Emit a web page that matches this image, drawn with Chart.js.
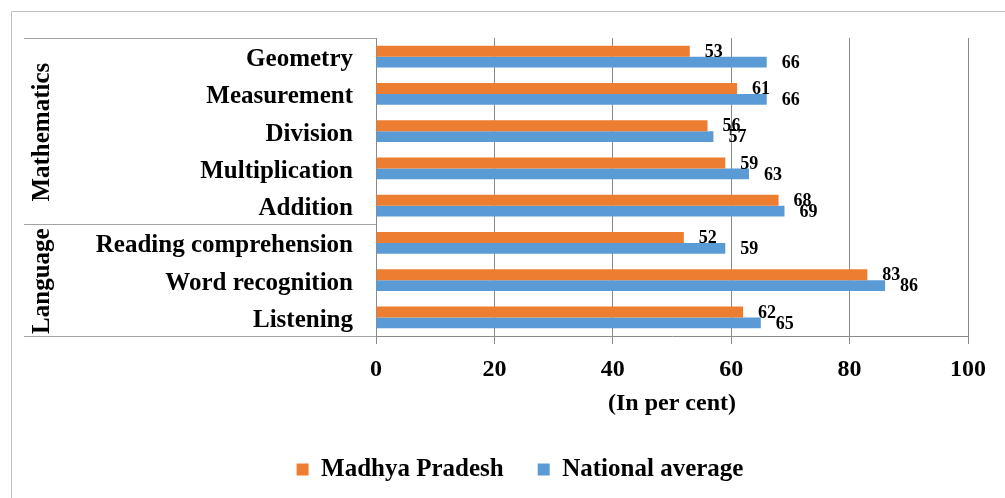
<!DOCTYPE html>
<html>
<head>
<meta charset="utf-8">
<script src="https://cdn.jsdelivr.net/npm/chart.js@4.4.1/dist/chart.umd.min.js"></script>
<style>
  html, body { margin: 0; padding: 0; background: #fff; }
  #wrap { width: 1005px; height: 498px; position: relative; }
</style>
</head>
<body>
<div id="wrap"><canvas id="grafico" width="1005" height="498"></canvas></div>
<script>
// =========================
// DATA
// =========================
const categorias = [
  "Geometry", "Measurement", "Division", "Multiplication", "Addition",
  "Reading comprehension", "Word recognition", "Listening"
];
const grupos       = ["Mathematics", "Language"];
const grupoTamanho = [5, 3];

const serieNomes     = ["Madhya Pradesh", "National average"];
const madhyaPradesh  = [53, 61, 56, 59, 68, 52, 83, 62];
const nacional       = [66, 66, 57, 63, 69, 59, 86, 65];

const xTicks   = [0, 20, 40, 60, 80, 100];
const xTitulo  = "(In per cent)";

const SERIF = "'Liberation Serif', 'Times New Roman', serif";
const LINHA = "#a3a3a3";

// =========================
// PLUGINS
// =========================
const moldura = {
  id: "moldura",
  beforeDraw(chart) {
    const ctx = chart.ctx;
    ctx.save();
    ctx.strokeStyle = "#bdbdbd";
    ctx.lineWidth = 1;
    ctx.beginPath();
    ctx.moveTo(11.5, 600);
    ctx.lineTo(11.5, 11.5);
    ctx.lineTo(1010, 11.5);
    ctx.stroke();
    ctx.restore();
  }
};

const rotulosCategorias = {
  id: "rotulosCategorias",
  afterDraw(chart) {
    const ctx = chart.ctx;
    const y = chart.scales.y;
    const area = chart.chartArea;
    ctx.save();

    // category names
    ctx.font = `bold 25px ${SERIF}`;
    ctx.fillStyle = "#000";
    ctx.textAlign = "right";
    ctx.textBaseline = "alphabetic";
    categorias.forEach((c, i) => {
      ctx.fillText(c, 353, y.getPixelForValue(i) + 9.5);
    });

    // group box lines
    const limites = [area.top];
    let idx = 0;
    grupoTamanho.forEach(n => {
      idx += n;
      limites.push(idx >= categorias.length
        ? area.bottom
        : (y.getPixelForValue(idx - 1) + y.getPixelForValue(idx)) / 2);
    });
    ctx.strokeStyle = LINHA;
    ctx.lineWidth = 1;
    limites.forEach(v => {
      const yy = Math.round(v) + 0.5;
      ctx.beginPath();
      ctx.moveTo(24, yy);
      ctx.lineTo(area.left, yy);
      ctx.stroke();
    });

    // group names (rotated)
    ctx.font = `bold 25px ${SERIF}`;
    ctx.textAlign = "center";
    ctx.textBaseline = "middle";
    grupos.forEach((g, i) => {
      const meio = (limites[i] + limites[i + 1]) / 2;
      ctx.save();
      ctx.translate(43, meio + 1);
      ctx.rotate(-Math.PI / 2);
      ctx.fillText(g, 0, 0);
      ctx.restore();
    });

    ctx.restore();
  }
};

const rotulosValores = {
  id: "rotulosValores",
  afterDatasetsDraw(chart) {
    const ctx = chart.ctx;
    ctx.save();
    ctx.font = `bold 18px ${SERIF}`;
    ctx.fillStyle = "#000";
    ctx.textAlign = "left";
    ctx.textBaseline = "middle";
    chart.data.datasets.forEach((ds, di) => {
      const meta = chart.getDatasetMeta(di);
      meta.data.forEach((bar, i) => {
        ctx.fillText(String(ds.data[i]), bar.x + 15, bar.y + 1);
      });
    });
    ctx.restore();
  }
};

// =========================
// CHART
// =========================
new Chart(document.getElementById("grafico"), {
  type: "bar",
  data: {
    labels: categorias,
    datasets: [
      {
        label: serieNomes[0],
        data: madhyaPradesh,
        backgroundColor: "#ED7D31",
        categoryPercentage: 0.59,
        barPercentage: 1.0
      },
      {
        label: serieNomes[1],
        data: nacional,
        backgroundColor: "#5B9BD5",
        categoryPercentage: 0.59,
        barPercentage: 1.0
      }
    ]
  },
  options: {
    indexAxis: "y",
    responsive: false,
    animation: false,
    layout: { padding: { left: 72, right: 37, top: 38, bottom: 6 } },
    plugins: {
      legend: {
        position: "bottom",
        labels: {
          boxWidth: 12,
          boxHeight: 12,
          padding: 34,
          color: "#000",
          font: { family: SERIF, size: 25, weight: "bold" }
        }
      },
      tooltip: { enabled: false }
    },
    scales: {
      x: {
        min: 0,
        max: 100,
        afterBuildTicks: s => { s.ticks = xTicks.map(v => ({ value: v })); },
        afterFit: s => { s.height = 87; },
        ticks: {
          padding: 11,
          color: "#000",
          font: { family: SERIF, size: 24, weight: "bold" }
        },
        grid: { color: "#8a8a8a", tickLength: 8, lineWidth: 1 },
        border: { color: "#8a8a8a" },
        title: {
          display: true,
          text: xTitulo,
          color: "#000",
          padding: { top: 4, bottom: 5 },
          font: { family: SERIF, size: 24, weight: "bold" }
        }
      },
      y: {
        afterFit: s => { s.width = 304; },
        ticks: { display: false },
        grid: { display: false },
        border: { color: "#8a8a8a" }
      }
    }
  },
  plugins: [moldura, rotulosCategorias, rotulosValores]
});
</script>
</body>
</html>
